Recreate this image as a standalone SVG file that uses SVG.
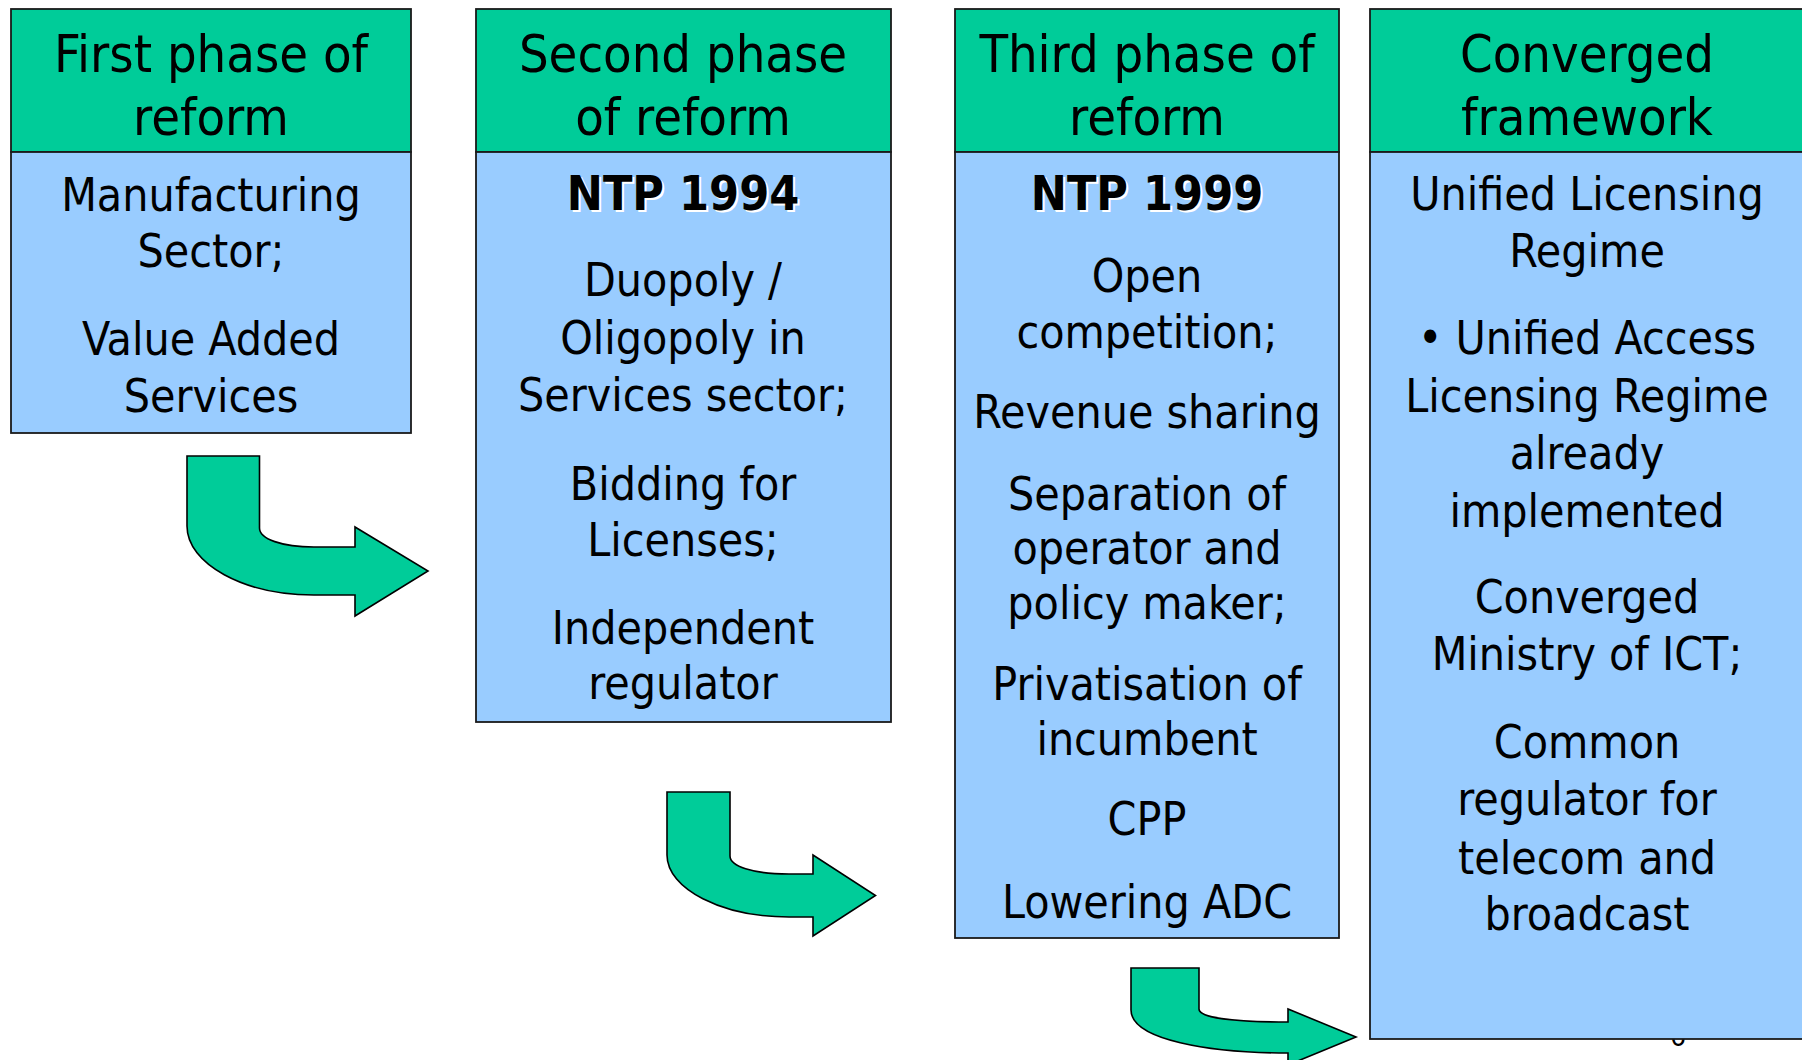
<svg xmlns="http://www.w3.org/2000/svg" width="1802" height="1060" viewBox="0 0 1802 1060">
<style>
.hdr{fill:#00CC99;stroke:#1a1a1a;stroke-width:1.8}
.body{fill:#99CCFF;stroke:#1a1a1a;stroke-width:1.8}
.arrow{fill:#00CC99;stroke:#000;stroke-width:1.6;stroke-linejoin:miter}
text{font-family:"DejaVu Sans Condensed","DejaVu Sans",sans-serif;font-stretch:condensed;fill:#000;text-anchor:middle}
.h{font-size:52px}
.t{font-size:46px}
.b{font-size:48px;font-weight:bold}
.sh{fill:#fff}
.pg{font-size:28px}
</style>
<rect width="1802" height="1060" fill="#fff"/>
<text class="pg" x="1678" y="1046">6</text>

<g id="connectors">
<path class="arrow" d="M187,456 H259.5 V528 C259.5,539 282,547 314,547 H355 V527 L428,571 L355,616 V595 H314 C244,595 187,564 187,526 Z"/>
<path class="arrow" d="M667,792 H730 V856 C730,866 752,874 789,874 H813 V855 L875.5,895.5 L813,936 V917 H789 C722,917 667,889 667,855 Z"/>
<path class="arrow" d="M1131,968 H1199 V1009 C1199,1017 1230,1022 1288,1022 V1009 L1356,1037 L1288,1065 V1053 C1210,1053 1131,1040 1131,1010 Z"/>
</g>

<g id="phase1">
<rect class="hdr" x="11" y="9" width="400" height="143"/>
<rect class="body" x="11" y="152" width="400" height="281"/>
<text class="h" x="211" y="72">First phase of</text>
<text class="h" x="211" y="135">reform</text>
<text class="t" x="211" y="211">Manufacturing</text>
<text class="t" x="211" y="267">Sector;</text>
<text class="t" x="211" y="355">Value Added</text>
<text class="t" x="211" y="412">Services</text>
</g>

<g id="phase2">
<rect class="hdr" x="476" y="9" width="415" height="143"/>
<rect class="body" x="476" y="152" width="415" height="570"/>
<text class="h" x="683" y="72">Second phase</text>
<text class="h" x="683" y="135">of reform</text>
<text class="b sh" x="685" y="212">NTP 1994</text>
<text class="b" x="683" y="210">NTP 1994</text>
<text class="t" x="683" y="296">Duopoly /</text>
<text class="t" x="683" y="354">Oligopoly in</text>
<text class="t" x="683" y="411">Services sector;</text>
<text class="t" x="683" y="500">Bidding for</text>
<text class="t" x="683" y="556">Licenses;</text>
<text class="t" x="683" y="644">Independent</text>
<text class="t" x="683" y="699">regulator</text>
</g>

<g id="phase3">
<rect class="hdr" x="955" y="9" width="384" height="143"/>
<rect class="body" x="955" y="152" width="384" height="786"/>
<text class="h" x="1147" y="72">Third phase of</text>
<text class="h" x="1147" y="135">reform</text>
<text class="b sh" x="1149" y="212">NTP 1999</text>
<text class="b" x="1147" y="210">NTP 1999</text>
<text class="t" x="1147" y="292">Open</text>
<text class="t" x="1147" y="348">competition;</text>
<text class="t" x="1147" y="428">Revenue sharing</text>
<text class="t" x="1147" y="510">Separation of</text>
<text class="t" x="1147" y="564">operator and</text>
<text class="t" x="1147" y="619">policy maker;</text>
<text class="t" x="1147" y="700">Privatisation of</text>
<text class="t" x="1147" y="755">incumbent</text>
<text class="t" x="1147" y="835">CPP</text>
<text class="t" x="1147" y="918">Lowering ADC</text>
</g>

<g id="converged">
<rect class="hdr" x="1370" y="9" width="436" height="143"/>
<rect class="body" x="1370" y="152" width="436" height="887"/>
<text class="h" x="1587" y="72">Converged</text>
<text class="h" x="1587" y="135">framework</text>
<text class="t" x="1587" y="210">Unified Licensing</text>
<text class="t" x="1587" y="267">Regime</text>
<text class="t" x="1587" y="354">• Unified Access</text>
<text class="t" x="1587" y="412">Licensing Regime</text>
<text class="t" x="1587" y="469">already</text>
<text class="t" x="1587" y="527">implemented</text>
<text class="t" x="1587" y="613">Converged</text>
<text class="t" x="1587" y="670">Ministry of ICT;</text>
<text class="t" x="1587" y="758">Common</text>
<text class="t" x="1587" y="815">regulator for</text>
<text class="t" x="1587" y="874">telecom and</text>
<text class="t" x="1587" y="930">broadcast</text>
</g>
</svg>
